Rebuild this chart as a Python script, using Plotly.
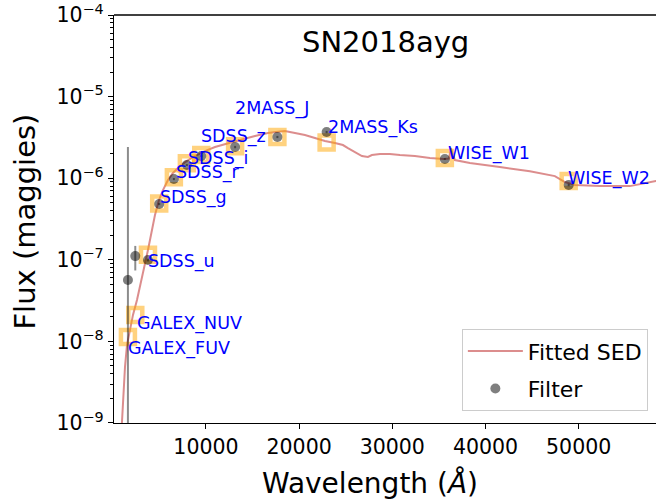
import numpy as np
import plotly.graph_objects as go

# ---- data ----
filters = ["GALEX_FUV", "GALEX_NUV", "SDSS_u", "SDSS_g", "SDSS_r", "SDSS_i",
           "SDSS_z", "2MASS_J", "2MASS_H", "2MASS_Ks", "WISE_W1", "WISE_W2"]
filter_wave = [1624, 2414, 3775, 4981, 6555, 7951, 9495, 13128, 17667, 22950, 35638, 48928]
obs_flux = [5.65e-8, 1.11e-7, 9.95e-8, 4.83e-7, 9.77e-7, 1.45e-6, 1.87e-6,
            2.41e-6, 3.20e-6, 3.68e-6, 1.72e-6, 8.26e-7]
obs_err = [2.35e-6, 3.7e-8, 4e-9, 1.5e-8, 3e-8, 4e-8, 5e-8, 8e-8, 1e-7, 1.2e-7, 4e-8, 3e-8]
model_flux = [1.13e-8, 2.11e-8, 1.15e-7, 4.9e-7, 1.03e-6, 1.53e-6, 1.93e-6,
              2.47e-6, 3.2e-6, 2.74e-6, 1.77e-6, 9.25e-7]
label_shown = [True, True, True, True, True, True, True, True, False, True, True, True]

sed_wave = [880, 1094, 1309, 1524, 1845, 2167, 2597, 3026, 3455, 3777, 4099, 4528, 4957,
            5386, 5923, 6459, 7210, 7961, 8820, 9893, 10966, 12361, 13648, 15258, 16652,
            17511, 18476, 19549, 20622, 21695, 22768, 23841, 24700, 25236, 25987, 26738,
            27382, 27811, 28670, 29742, 30815, 32425, 34034, 35536, 36073, 36288, 36717,
            38326, 41545, 44764, 47446, 48519, 49592, 52275, 55494, 57103, 58284, 59000]
sed_flux = [6.2e-10, 1.91e-9, 4.85e-9, 9.0e-9, 1.38e-8, 2.11e-8, 3.22e-8, 5.2e-8, 8.6e-8,
            1.32e-7, 2.01e-7, 3.54e-7, 5.41e-7, 7.16e-7, 9.5e-7, 1.16e-6, 1.41e-6, 1.63e-6,
            1.87e-6, 2.15e-6, 2.41e-6, 2.70e-6, 2.94e-6, 3.29e-6, 3.58e-6, 3.68e-6, 3.79e-6,
            3.58e-6, 3.38e-6, 3.11e-6, 2.86e-6, 2.70e-6, 2.55e-6, 2.34e-6, 2.09e-6, 1.87e-6,
            1.82e-6, 1.92e-6, 1.98e-6, 1.98e-6, 1.92e-6, 1.87e-6, 1.77e-6, 1.72e-6, 1.74e-6,
            2.34e-6, 1.67e-6, 1.54e-6, 1.37e-6, 1.22e-6, 1.06e-6, 8.98e-7, 8.26e-7, 8.0e-7,
            8.0e-7, 8.73e-7, 9.25e-7, 9.4e-7]

title_text = "SN2018ayg"
x_ticks = [10000, 20000, 30000, 40000, 50000]
y_tick_exps = [-9, -8, -7, -6, -5, -4]

# label pixel offsets (layout only): (dx, dy) relative to observed point
label_offsets = {
    "GALEX_FUV": (-2, -68), "GALEX_NUV": (0, -67), "SDSS_u": (-2, -2), "SDSS_g": (-1, 6),
    "SDSS_r": (0, 7), "SDSS_i": (-1, 7), "SDSS_z": (-2, 20), "2MASS_J": (-2, 39),
    "2MASS_Ks": (-1, 5), "WISE_W1": (1, 5), "WISE_W2": (-3, 6),
}

FONT = "DejaVu Sans"
fig = go.Figure()

fig.add_trace(go.Scatter(
    x=sed_wave, y=sed_flux, mode="lines", name="Fitted SED",
    line=dict(color="rgba(205,92,92,0.7)", width=2), legendgroup="a"))

fig.add_trace(go.Scatter(
    x=filter_wave, y=model_flux, mode="markers", showlegend=False,
    marker=dict(symbol="square-open", size=14, color="rgba(255,165,0,0.5)",
                line=dict(width=4.5, color="rgba(255,165,0,0.5)"))))

err_minus = [f * 0.999999 if e >= f else e for f, e in zip(obs_flux, obs_err)]
fig.add_trace(go.Scatter(
    x=filter_wave, y=obs_flux, mode="markers", name="Filter", legendgroup="b",
    marker=dict(symbol="circle", size=10, color="rgba(0,0,0,0.5)"),
    error_y=dict(type="data", symmetric=False, array=obs_err, arrayminus=err_minus,
                 color="rgba(0,0,0,0.45)", thickness=2, width=0)))

annotations = []
for name, w, f, show in zip(filters, filter_wave, obs_flux, label_shown):
    if not show:
        continue
    dx, dy = label_offsets[name]
    annotations.append(dict(
        x=w, y=np.log10(f), xref="x", yref="y", text=name, showarrow=False,
        xanchor="left", yanchor="middle", xshift=dx, yshift=dy,
        font=dict(family=FONT, size=17.5, color="#0000ff")))

annotations.append(dict(x=0.5, y=0.9326, xref="paper", yref="paper", text=title_text,
                        showarrow=False, xanchor="center", yanchor="middle",
                        font=dict(family=FONT, size=29, color="black")))
annotations.append(dict(x=0.472, y=-0.147, xref="paper", yref="paper",
                        text="Wavelength (<i>Å</i>)", showarrow=False,
                        xanchor="center", yanchor="middle",
                        font=dict(family=FONT, size=28, color="black")))
annotations.append(dict(x=-0.164, y=0.494, xref="paper", yref="paper",
                        text="Flux (maggies)", showarrow=False, textangle=-90,
                        xanchor="center", yanchor="middle",
                        font=dict(family=FONT, size=29, color="black")))

fig.update_layout(
    width=656, height=504,
    margin=dict(l=114, r=0, t=15, b=81),
    paper_bgcolor="white", plot_bgcolor="white",
    font=dict(family=FONT, color="black"),
    annotations=annotations,
    shapes=[dict(type="line", xref="paper", yref="paper", x0=0, x1=1, y0=1, y1=1,
                 line=dict(color="black", width=1.3))],
    legend=dict(x=0.985, y=0.029, xanchor="right", yanchor="bottom",
                bgcolor="rgba(255,255,255,0.8)", bordercolor="#cccccc", borderwidth=1,
                font=dict(family=FONT, size=22, color="black"),
                traceorder="grouped", tracegroupgap=6, itemwidth=55),
)

fig.update_xaxes(
    range=[130, 58300], showgrid=False, zeroline=False,
    showline=True, linecolor="black", linewidth=1.3,
    ticks="outside", ticklen=5, tickwidth=1.2, tickcolor="black",
    tickvals=x_ticks, ticktext=[str(v) for v in x_ticks],
    tickfont=dict(family=FONT, size=20.5, color="black"))

fig.update_yaxes(
    type="log", range=[-9.0002, -3.9998], showgrid=False, zeroline=False,
    showline=True, linecolor="black", linewidth=1.3, mirror=False,
    ticks="outside", ticklen=5, tickwidth=1.2, tickcolor="black",
    tickvals=[10.0 ** e for e in y_tick_exps],
    ticktext=["10<sup>\u2212%d</sup>" % (-e) for e in y_tick_exps],
    tickfont=dict(family=FONT, size=20.5, color="black"),
    minor=dict(ticks="outside", ticklen=2.5, tickwidth=0.8, tickcolor="black",
               dtick="D1", showgrid=False))

fig.write_html("out.html")
